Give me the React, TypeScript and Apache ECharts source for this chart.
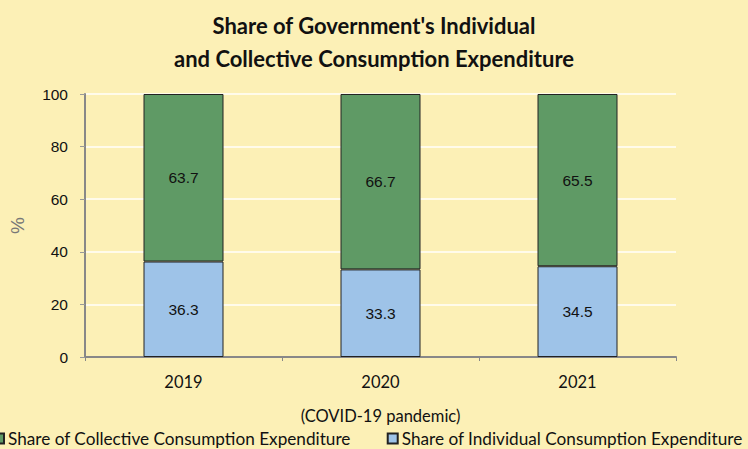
import React, { useEffect, useRef } from "react";
import * as echarts from "echarts";

const years = ["2019", "2020", "2021"];
const individual = [36.3, 33.3, 34.5];
const collective = [63.7, 66.7, 65.5];
const yTicks = [0, 20, 40, 60, 80, 100];

export default function App() {
  const ref = useRef<HTMLDivElement>(null);
  useEffect(() => {
    const chart = echarts.init(ref.current!, null, { renderer: "svg" });
    chart.setOption({
      animation: false,
      backgroundColor: "#FCF0B6",
      title: {
        text: "Share of Government's Individual\nand Collective Consumption Expenditure",
        left: "center",
        top: 4,
        textStyle: {
          fontFamily: "Lato",
          fontWeight: "bold",
          fontSize: 22,
          lineHeight: 33,
          color: "#111",
        },
      },
      grid: { left: 82, right: 72, top: 94, bottom: 92, containLabel: false },
      legend: {
        bottom: -3,
        left: -12,
        itemWidth: 10,
        itemHeight: 10,
        itemGap: 36,
        icon: "rect",
        data: [
          "Share of Collective Consumption Expenditure",
          "Share of Individual Consumption Expenditure",
        ],
        textStyle: { fontFamily: "Lato", fontSize: 17.2, color: "#111", padding: [0, 0, 0, -1] },
      },
      xAxis: {
        type: "category",
        data: years,
        name: "(COVID-19 pandemic)",
        nameLocation: "middle",
        nameGap: 50,
        nameTextStyle: { fontFamily: "Lato", fontSize: 16.5, color: "#111" },
        axisLine: { lineStyle: { color: "#888", width: 2 } },
        axisTick: { show: true, length: 4, lineStyle: { color: "#888" } },
        axisLabel: { fontFamily: "Lato", fontSize: 16.5, color: "#111", margin: 16 },
      },
      yAxis: {
        type: "value",
        min: 0,
        max: 100,
        interval: 20,
        name: "%",
        nameLocation: "middle",
        nameGap: 58,
        nameTextStyle: { fontFamily: "Liberation Sans", fontSize: 19, color: "#777" },
        axisLine: { show: true, lineStyle: { color: "#888", width: 2 } },
        axisTick: { show: true, length: 5, lineStyle: { color: "#999" } },
        axisLabel: {
          fontFamily: "Liberation Sans",
          fontSize: 15.5,
          color: "#111",
          margin: 17,
          formatter: (v: number) => (yTicks.includes(v) ? String(v) : ""),
        },
        splitLine: { show: true, lineStyle: { color: "#FFFBEA", width: 2 } },
      },
      series: [
        {
          name: "Share of Individual Consumption Expenditure",
          type: "bar",
          stack: "total",
          barWidth: 80,
          data: individual,
          itemStyle: { color: "#9EC3E8", borderColor: "#222", borderWidth: 1 },
          label: {
            show: true,
            position: "inside",
            fontFamily: "Liberation Sans",
            fontSize: 15.5,
            color: "#111",
          },
        },
        {
          name: "Share of Collective Consumption Expenditure",
          type: "bar",
          stack: "total",
          barWidth: 80,
          data: collective,
          itemStyle: { color: "#5F9A65", borderColor: "#222", borderWidth: 1 },
          label: {
            show: true,
            position: "inside",
            fontFamily: "Liberation Sans",
            fontSize: 15.5,
            color: "#111",
          },
        },
      ],
    });
    return () => chart.dispose();
  }, []);
  return <div ref={ref} style={{ width: 748, height: 449, position: "absolute", left: 0, top: 0 }} />;
}
